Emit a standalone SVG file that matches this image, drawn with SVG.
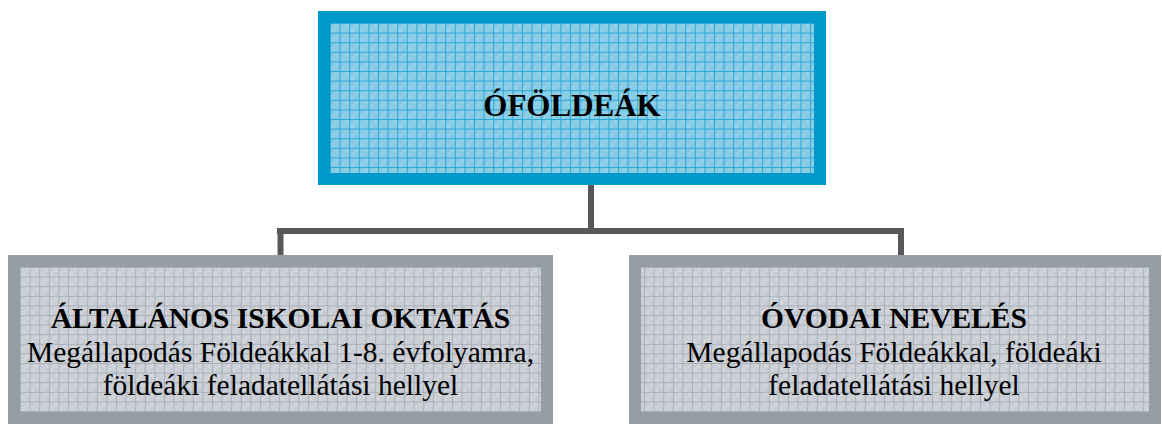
<svg xmlns="http://www.w3.org/2000/svg" width="1162" height="424" viewBox="0 0 1162 424">
<style>
  .title { font-family: "Liberation Serif", "Times New Roman", serif; font-weight: bold; fill: #000; text-anchor: middle; }
  .body { font-family: "Liberation Serif", "Times New Roman", serif; fill: #000; text-anchor: middle; }
  .conn { stroke: #58585a; stroke-width: 6; fill: none; }
  .blue { fill: url(#gridBlue); stroke: #0099cc; stroke-width: 12; }
  .gray { fill: url(#gridGray); stroke: #959ea7; stroke-width: 12; }
</style>
<defs>
  <pattern id="gridBlue" patternUnits="userSpaceOnUse" x="330" y="23" width="9.6" height="9.6">
    <rect width="9.6" height="9.6" fill="#8fd0e7"/>
    <rect x="0" y="0" width="4.8" height="4.8" fill="#86cce5"/>
    <rect x="4.8" y="4.8" width="4.8" height="4.8" fill="#86cce5"/>
    <rect x="0" y="0" width="9.6" height="1" fill="#2aa9d6"/>
    <rect x="0" y="0" width="1" height="9.6" fill="#2aa9d6"/>
  </pattern>
  <pattern id="gridGray" patternUnits="userSpaceOnUse" x="20" y="267" width="9.6" height="9.6">
    <rect width="9.6" height="9.6" fill="#d0d4da"/>
    <rect x="0" y="0" width="4.8" height="4.8" fill="#c9ced4"/>
    <rect x="4.8" y="4.8" width="4.8" height="4.8" fill="#c9ced4"/>
    <rect x="0" y="0" width="9.6" height="1" fill="#a9b0b8"/>
    <rect x="0" y="0" width="1" height="9.6" fill="#a9b0b8"/>
  </pattern>
</defs>
<g id="connectors">
  <line class="conn" x1="591" y1="185" x2="591" y2="231"/>
  <line class="conn" x1="277" y1="231" x2="904" y2="231"/>
  <line class="conn" x1="280.5" y1="231" x2="280.5" y2="256"/>
  <line class="conn" x1="901" y1="231" x2="901" y2="256"/>
</g>
<g id="node-top">
  <rect class="blue" x="324" y="17" width="496" height="162"/>
  <text class="title" x="572" y="116" font-size="31">ÓFÖLDEÁK</text>
</g>
<g id="node-school">
  <rect class="gray" x="14" y="261" width="533" height="157"/>
  <text class="title" x="280.5" y="328" font-size="29.5">ÁLTALÁNOS ISKOLAI OKTATÁS</text>
  <text class="body" x="280.5" y="362" font-size="29.5">Megállapodás Földeákkal 1-8. évfolyamra,</text>
  <text class="body" x="280.5" y="395" font-size="29.5">földeáki feladatellátási hellyel</text>
</g>
<g id="node-kindergarten">
  <rect class="gray" x="635" y="261" width="520" height="157"/>
  <text class="title" x="894" y="328" font-size="29.5">ÓVODAI NEVELÉS</text>
  <text class="body" x="894" y="362" font-size="29.5">Megállapodás Földeákkal, földeáki</text>
  <text class="body" x="894" y="395" font-size="29.5">feladatellátási hellyel</text>
</g>
</svg>
